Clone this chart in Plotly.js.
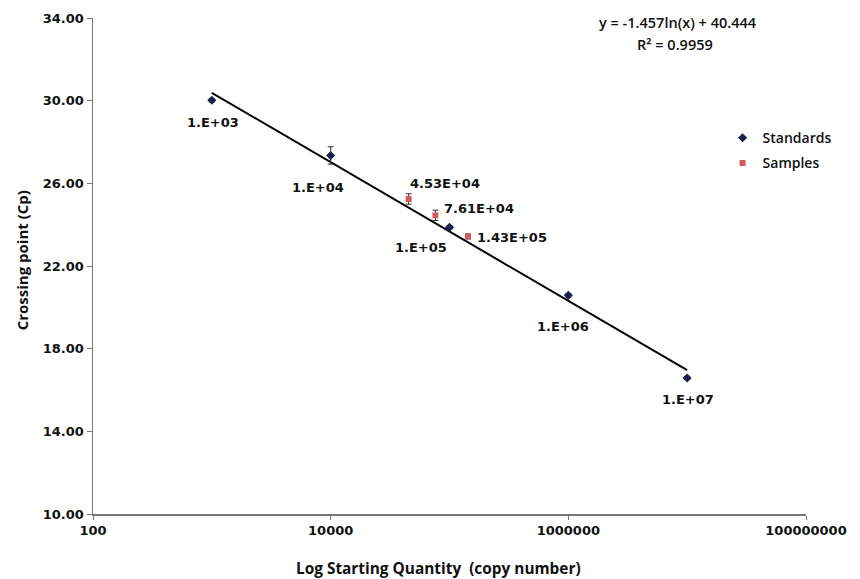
<!DOCTYPE html>
<html>
<head>
<meta charset="utf-8">
<script src="https://cdn.plot.ly/plotly-3.0.1.min.js"></script>
<style>html,body{margin:0;padding:0;background:#fff}#chart{width:860px;height:579px}</style>
</head>
<body>
<div id="chart"></div>
<script>
// Standards
const stdX = [1000, 10000, 100000, 1000000, 10000000];
const stdY = [30.02, 27.35, 23.87, 20.58, 16.58];
const stdErr = [0.08, 0.42, 0.08, 0.08, 0.08];
const stdLabels = ["1.E+03", "1.E+04", "1.E+05", "1.E+06", "1.E+07"];
// Samples
const smpX = [45300, 76100, 143000];
const smpY = [25.24, 24.45, 23.43];
const smpErr = [0.25, 0.25, 0.12];
const smpLabels = ["4.53E+04", "7.61E+04", "1.43E+05"];
// Trendline y = a ln(x) + b
const trendA = -1.457;
const trendB = 40.444;
const trendR2 = 0.9959;
const trendRange = [1000, 10000000];
const xTickVals = [100, 10000, 1000000, 100000000];
const xTickText = ["100", "10000", "1000000", "100000000"];
const xTitle = "Log Starting Quantity  (copy number)";
const yTitle = "Crossing point (Cp)";

const trendY = trendRange.map(x => trendA * Math.log(x) + trendB);

const labelFont = {family: "DejaVu Sans", size: 13, color: "#111", weight: 700};

const stdShift = [[1, -22], [-13, -32], [-29, -20], [-5, -31], [1, -21]];
const smpShift = [[36, 16], [44, 7], [44, -1]];

const annotations = [];
stdX.forEach((x, i) => annotations.push({
  x: Math.log10(x), y: stdY[i], xref: "x", yref: "y", text: stdLabels[i], showarrow: false,
  xshift: stdShift[i][0], yshift: stdShift[i][1], font: labelFont
}));
smpX.forEach((x, i) => annotations.push({
  x: Math.log10(x), y: smpY[i], xref: "x", yref: "y", text: smpLabels[i], showarrow: false,
  xshift: smpShift[i][0], yshift: smpShift[i][1], font: labelFont
}));
annotations.push({
  xref: "paper", yref: "paper", x: (678 - 93) / 713, y: 1.0, xanchor: "center", yanchor: "middle",
  yshift: -4, showarrow: false,
  text: "y = " + trendA.toFixed(3) + "ln(x) + " + trendB.toFixed(3),
  font: {family: "Open Sans", size: 14.5, color: "#111", weight: 600}
});
annotations.push({
  xref: "paper", yref: "paper", x: (675 - 93) / 713, y: 1.0, xanchor: "center", yanchor: "middle",
  yshift: -26, showarrow: false,
  text: "R² = " + trendR2.toFixed(4),
  font: {family: "Open Sans", size: 14.5, color: "#111", weight: 600}
});
annotations.push({
  xref: "paper", yref: "paper", x: (438 - 93) / 713, y: 0, xanchor: "center", yanchor: "middle",
  yshift: -54, showarrow: false, text: xTitle,
  font: {family: "Open Sans", size: 15.4, color: "#111", weight: 700}
});
annotations.push({
  xref: "paper", yref: "paper", x: 0, y: (513.7 - 260) / 496, xanchor: "center", yanchor: "middle",
  xshift: -(93 - 22), showarrow: false, text: yTitle, textangle: -90,
  font: {family: "Open Sans", size: 15, color: "#111", weight: 700}
});

const traces = [
  {
    x: trendRange, y: trendY, mode: "lines", type: "scatter", showlegend: false,
    line: {color: "#000", width: 2}, hoverinfo: "skip"
  },
  {
    x: stdX, y: stdY, mode: "markers", type: "scatter", name: "Standards", legendgroup: "a",
    marker: {symbol: "diamond", size: 7, color: "#1b1f4a"},
    error_y: {type: "data", array: stdErr, visible: true, color: "#333", thickness: 1, width: 3}
  },
  {
    x: smpX, y: smpY, mode: "markers", type: "scatter", name: "Samples", legendgroup: "b",
    marker: {symbol: "square", size: 6, color: "#d05a60"},
    error_y: {type: "data", array: smpErr, visible: true, color: "#333", thickness: 1, width: 3}
  }
];

const layout = {
  width: 860, height: 579,
  margin: {l: 93, r: 54, t: 18, b: 65},
  paper_bgcolor: "#fff", plot_bgcolor: "#fff",
  font: {family: "DejaVu Sans", color: "#111"},
  xaxis: {
    type: "log", range: [2, 8], tickvals: xTickVals, ticktext: xTickText,
    showgrid: false, zeroline: false, showline: true, linecolor: "#777", linewidth: 1.5,
    ticks: "outside", ticklen: 4, tickcolor: "#777",
    tickfont: {family: "DejaVu Sans", size: 13, color: "#111", weight: 700}
  },
  yaxis: {
    range: [10, 34], dtick: 4, tick0: 10, tickformat: ".2f",
    showgrid: false, zeroline: false, showline: true, linecolor: "#777", linewidth: 1.5,
    ticks: "outside", ticklen: 5, tickcolor: "#777",
    tickfont: {family: "DejaVu Sans", size: 13, color: "#111", weight: 700}
  },
  legend: {
    x: 0.883, y: 0.79, xanchor: "left", yanchor: "top", bgcolor: "rgba(0,0,0,0)",
    font: {family: "Open Sans", size: 14, color: "#111", weight: 600},
    tracegroupgap: 4
  },
  annotations: annotations,
  showlegend: true
};

Plotly.newPlot("chart", traces, layout, {displayModeBar: false, staticPlot: true});
</script>
</body>
</html>
